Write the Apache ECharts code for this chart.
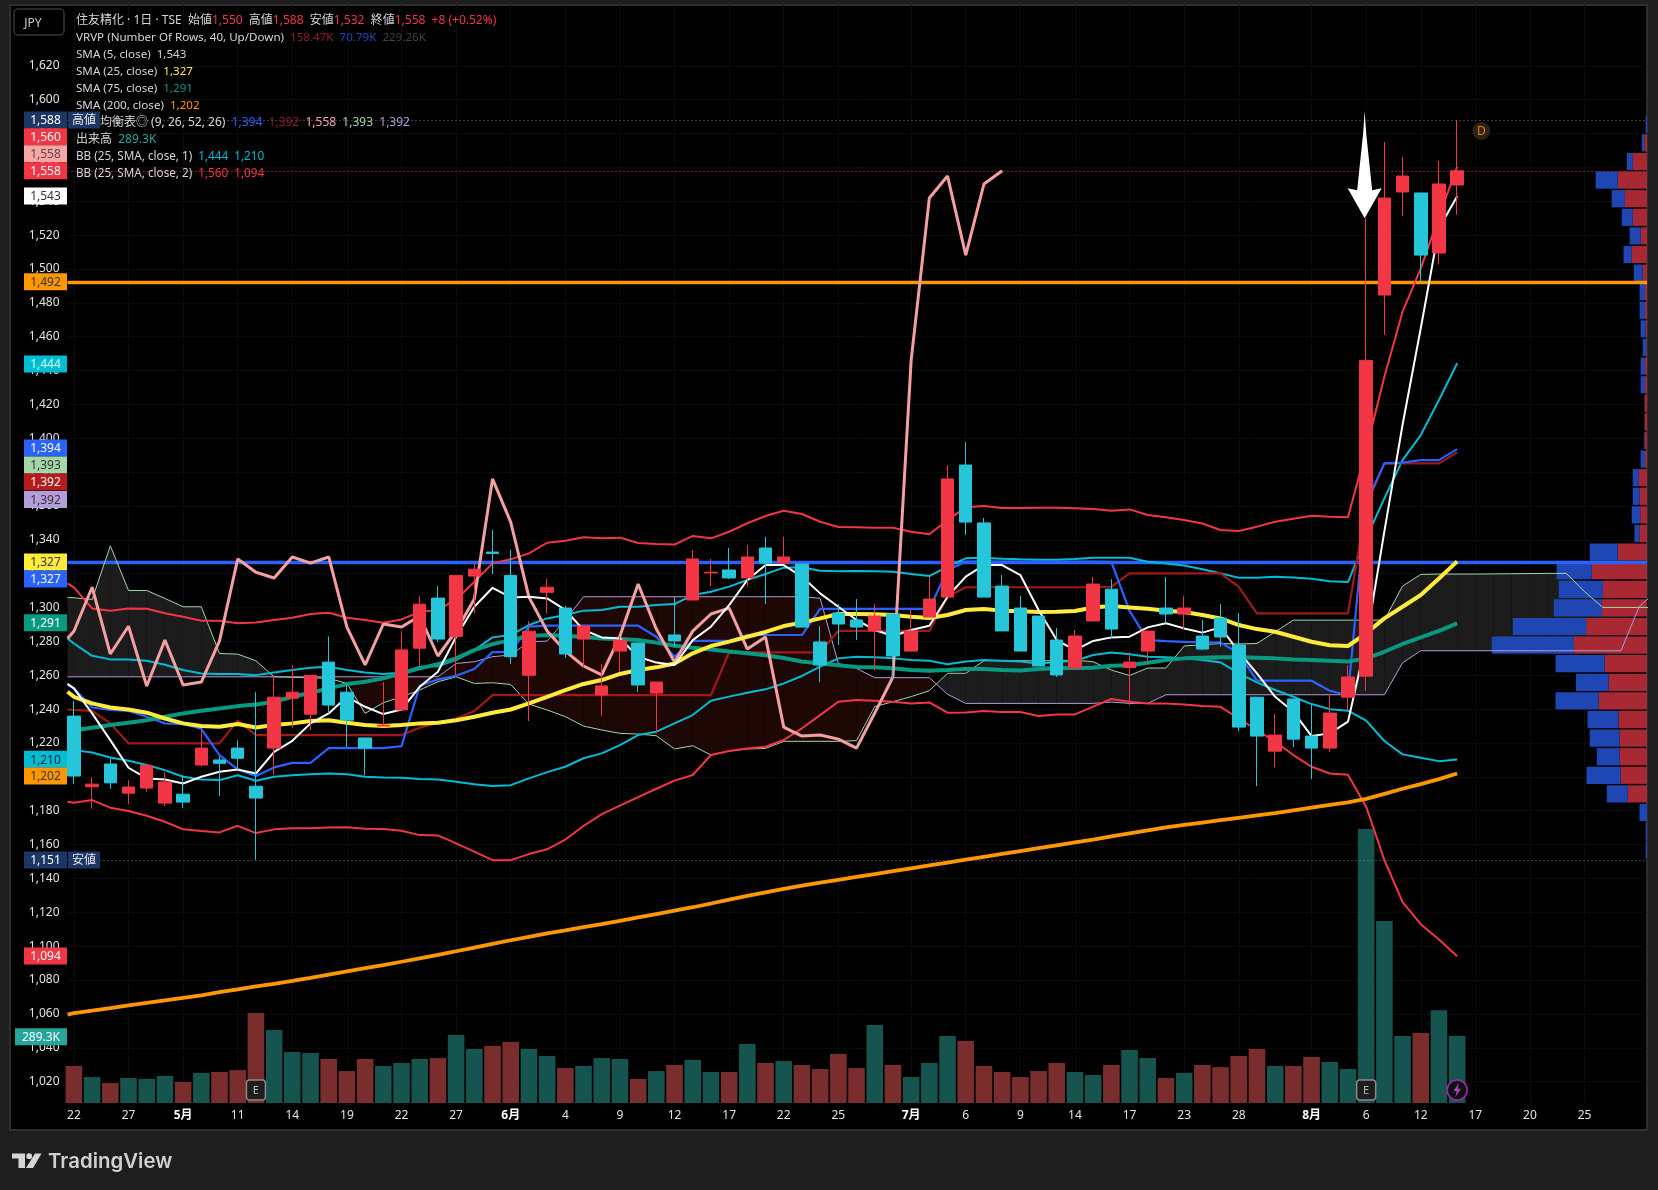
<!DOCTYPE html>
<html><head><meta charset="utf-8">
<style>html,body{margin:0;padding:0;background:#1e1e1e}#c{width:1658px;height:1190px}</style>
<script src="https://cdn.jsdelivr.net/npm/echarts@6/dist/echarts.min.js"></script>
</head><body><div id="c"></div>
<script>
// ---------- candles ----------
const opens=[1235.9,1194.2,1207.6,1190.4,1193.4,1184.5,1189.8,1207,1210,1217,1194.5,1217,1246.5,1237,1267.8,1250,1223,1230,1239.5,1276,1305.6,1283,1318.6,1332.8,1319,1260,1309,1299.7,1281.4,1248.4,1274.3,1279.1,1249.5,1283.8,1304.5,1320.5,1322.2,1317.5,1335.2,1326.3,1325.7,1279.7,1296.8,1292.7,1286.2,1296.2,1274.3,1294.4,1306.2,1384.2,1350,1312.7,1299.7,1295,1280.8,1264.3,1292.1,1310.9,1264.5,1274.3,1299.7,1296.2,1283.2,1293.8,1277.9,1247.1,1215.2,1246,1224.1,1217,1247.1,1259.5,1484.6,1545.5,1544.9,1509.4,1549.6];
const closes=[1200.5,1195.7,1196.5,1194,1206.8,1197,1185.1,1217,1208,1211,1187.5,1247.1,1250,1260,1242.4,1233.5,1217,1230.6,1275,1302,1281.4,1319,1322.7,1332,1271,1286,1312,1272.6,1289.1,1253.7,1280.8,1254.3,1256,1280.3,1328.7,1320.9,1317.5,1329.9,1326.3,1329.9,1288.5,1266.1,1290.3,1288.5,1295,1271.4,1286.2,1305,1376,1350.5,1306.2,1286.2,1274.3,1265.5,1260.2,1283.2,1313.9,1287.3,1267.8,1286.1,1296.2,1299.7,1275.5,1282.6,1229.4,1224.1,1224.7,1222.3,1217,1237.7,1259,1446,1541.9,1554.9,1508.2,1550.2,1558];
const highs=[1244.8,1199.7,1210.9,1198,1206.8,1202.8,1201,1227.6,1212,1221.7,1250,1260,1266,1260,1283,1255,1223,1256,1286,1306.8,1312.7,1319,1325.7,1345.8,1334,1292,1317,1301,1289.1,1266.7,1283,1279.1,1256,1306.4,1334,1328.7,1335.2,1337,1341.7,1341.7,1325.7,1289.1,1302.1,1305,1302.1,1296.2,1298.6,1318,1384.2,1397.8,1352.9,1319.2,1306.8,1295,1287.9,1286.8,1318,1316.7,1273.7,1286.1,1318,1306.8,1292.6,1302.1,1296.8,1247.1,1237,1246,1242.4,1249,1266,1530,1575,1566.1,1544.9,1563.8,1588];
const lows=[1195.7,1181.2,1193,1184,1191.2,1182.7,1181.6,1206,1188.6,1204,1151,1201,1229,1227.6,1237.5,1217.6,1201,1230,1239.5,1265,1279.6,1260,1296.6,1319.8,1266.6,1233,1296.6,1270.2,1264.9,1235.9,1262,1250.1,1225.7,1276.7,1304.5,1312.8,1316.9,1312.4,1302.1,1326.3,1288.5,1256,1277.9,1280.8,1263.1,1257.8,1274.3,1294.4,1306.2,1342.9,1306.2,1286.2,1274.3,1265.5,1259,1263.1,1292.1,1282,1242.4,1267,1290.7,1287.1,1274.9,1276.9,1227,1194.6,1205.8,1217.6,1198.7,1214.6,1239.5,1250.7,1461,1531.3,1492.9,1502.9,1532];
const volumes=[160,112,86,108,104,117,91,130,134,142,389,315,220,216,190,138,190,160,173,190,194,294,233,246,263,233,203,151,160,194,190,104,138,164,186,134,134,255,173,181,164,147,212,151,337,164,112,173,289,268,160,134,112,138,173,134,121,164,229,194,108,130,164,155,203,233,160,160,199,177,147,1183,786,289,302,401,289];
// ---------- indicator lines ----------
const sma5=[1252.3,1237.5,1221.7,1205.4,1199.1,1198.5,1196.1,1200.1,1203,1204.4,1202,1214.8,1221.3,1231.6,1237.5,1247.3,1241.4,1237.1,1239.8,1253.2,1262.1,1282.8,1300.5,1311.7,1306,1306.4,1305.4,1298.6,1286.8,1282.4,1281.8,1271,1267.5,1266.1,1280.8,1288.7,1301.5,1316.3,1325.1,1325.1,1318.3,1308.4,1300.5,1292.7,1286.8,1283.2,1286.8,1289.3,1306.4,1318.3,1325.1,1325.1,1319.2,1298.6,1280.8,1274.9,1280.3,1282.4,1282.8,1288.3,1290.7,1287.7,1285.2,1288.3,1273.9,1261.1,1247.3,1238.5,1224.1,1225.7,1232.6,1280,1345,1408,1465,1524,1543];
const sma25=[1247.3,1243.4,1241,1239.8,1237.9,1234.5,1231.6,1230,1229.6,1231.2,1229.2,1230.6,1231.6,1233,1233.5,1232,1230.6,1230,1230.6,1231.6,1232,1233.5,1235.5,1237.9,1239.8,1243.4,1247.3,1251.3,1254.9,1257.2,1260.8,1263.1,1264.7,1267,1273,1277.3,1279.9,1282.8,1285.6,1289.1,1291.1,1293.6,1296.2,1296.2,1296,1295.6,1294.6,1293.8,1295.6,1298.6,1299.2,1298.2,1297.8,1297.4,1297.6,1298,1300.1,1300.9,1300.1,1299.3,1298.1,1297.4,1295.6,1293.6,1289.7,1287.3,1285.7,1282.8,1279.8,1277.7,1277.3,1284.8,1293.6,1300.5,1307.4,1317.2,1327.3];
const sma75=[1227.6,1229,1230.6,1232,1233.5,1235.5,1237.5,1239,1240.4,1241.8,1242.8,1244.4,1247.3,1249.7,1252.3,1254.8,1256.2,1258.2,1261.1,1264.1,1266.6,1270,1274.9,1278.4,1280.8,1283.2,1283.8,1283.2,1282.8,1281.8,1281.4,1280.8,1279.3,1277.5,1276.3,1275.3,1274,1273,1271.8,1270.2,1268.2,1267,1265.9,1264.9,1264.7,1264.1,1263.1,1262.7,1263.1,1263.7,1263.7,1263.1,1262.9,1263.7,1264.1,1264.3,1264.5,1265.7,1266,1267.4,1269,1270,1270.4,1270.6,1270.6,1270.4,1270,1269.4,1269,1268.6,1268.2,1270,1273.9,1278.5,1282.4,1286.3,1290.7];
const sma200=[1060.5,1061.9,1063.4,1065,1066.5,1068,1069.5,1071,1072.8,1074.5,1076.2,1077.8,1079.5,1081.3,1083.2,1085.1,1087,1088.8,1090.8,1092.8,1094.8,1097,1099.2,1101.4,1103.5,1105.5,1107.5,1109.3,1111.2,1113,1115,1117,1119,1121,1123,1125.2,1127.5,1129.7,1131.8,1133.8,1135.8,1137.5,1139.2,1140.9,1142.6,1144.3,1146,1147.7,1149.4,1151.1,1152.8,1154.5,1156.2,1157.9,1159.6,1161.3,1163,1164.8,1166.6,1168.4,1170.2,1171.6,1173,1174.4,1175.8,1177.2,1178.6,1180.2,1181.8,1183.4,1184.9,1187,1190,1193,1195.7,1198.7,1202];
const tenkan=[1252.3,1241,1239.5,1239,1235.5,1231.6,1231.2,1228.4,1212.9,1204.4,1200.5,1205.6,1208.3,1208.3,1217,1217,1217,1217,1218.2,1253.8,1257.6,1259.7,1263.7,1273.7,1273.7,1288.7,1289.3,1289.3,1289.3,1289.3,1289.3,1289.3,1282.8,1271,1280.3,1280.3,1280.3,1283.8,1283.8,1283.8,1283.8,1299.2,1299.2,1299.2,1299.2,1299.2,1299.2,1299.2,1322.2,1327.1,1327.1,1327.1,1327.1,1327.1,1327.1,1327.1,1327.1,1327,1298.1,1280.8,1280.2,1279.8,1279.4,1279.4,1273,1256.8,1256.8,1256.8,1256.8,1250.9,1248.3,1362,1385.2,1385.6,1387.1,1387.1,1393.6];
const kijun=[1239.5,1239,1231.6,1219.8,1219.8,1219.8,1219.8,1219.8,1219.8,1233.2,1224.7,1224.7,1224.7,1224.7,1224.7,1224.7,1224.7,1224.7,1224.7,1229,1232,1234.5,1238.9,1248.3,1248.3,1248.3,1248.3,1248.3,1248.3,1248.3,1248.3,1248.3,1248.3,1248.3,1248.3,1248.3,1273.6,1273.6,1273.6,1273.6,1273.6,1273.6,1286.2,1286.2,1286.2,1286.2,1286.2,1286.2,1306.4,1312,1312,1312,1312,1312,1312,1312,1312,1312.3,1320.2,1320.2,1320.2,1320.2,1320.2,1320.2,1312.3,1296.6,1296.6,1296.6,1296.6,1296.6,1296.6,1360,1385.2,1385.2,1385.2,1385.2,1391.7];
const chikou=[1286,1312,1272.6,1289,1253.7,1280.8,1254.3,1256,1280.3,1328.7,1320.9,1317.5,1329.9,1326.3,1329.9,1288.5,1266.1,1290.3,1288.5,1295,1271.4,1286.2,1305,1376,1350.5,1306.2,1286.2,1274.3,1265.5,1260.2,1283.2,1313.9,1287.3,1267.8,1286.1,1296.2,1299.7,1275.5,1282.6,1229.4,1224.1,1224.7,1222.3,1217,1237.7,1259,1446,1541.9,1554.9,1508.2,1550.2,1558];
const senkouA=[1305.8,1304.8,1336.5,1310.1,1310.1,1305.4,1300.5,1300.5,1272.9,1272.5,1268.6,1259.1,1258.8,1258.5,1258.2,1255.2,1237.5,1243.8,1247.3,1251.3,1256.2,1259.1,1255.2,1255.6,1254.6,1243,1239.5,1235.6,1230,1227.7,1225.7,1225.3,1224.3,1216.5,1218.4,1212.9,1215.3,1216.5,1216.8,1221,1221,1221,1221,1221.4,1241.5,1244.4,1247.4,1250.9,1261.2,1261.2,1268.6,1268.6,1268.6,1268.6,1268.6,1269,1268,1263.1,1259.9,1264.3,1264.3,1277.3,1278.1,1278.8,1278.5,1278.8,1285.7,1292.6,1292.6,1292.6,1292.6,1292.6,1292.6,1312.7,1319.6,1319.8,1319.8,1319.8,1319.9,1320,1320.1,1320.2,1320.2,1309.4,1300.1,1300.1,1300.1,1300.1];
const senkouB=[1259.1,1259.1,1259.1,1259.1,1259.1,1259.1,1259.1,1259.1,1259.1,1259.1,1259.1,1259.1,1259.1,1259.1,1259.1,1259.1,1259.1,1259.1,1259.1,1259.1,1259.1,1267,1268,1271,1272,1279.8,1280.2,1292.7,1306.4,1306.4,1306.4,1306.4,1306.4,1306.4,1306.4,1306.4,1306.4,1306.4,1306.4,1306.4,1306.4,1305.5,1267,1264.1,1258.6,1258.6,1258.6,1258.6,1248.8,1243.4,1243.4,1243.4,1243.4,1243.4,1243.4,1243.4,1243.4,1244.2,1243.4,1243.4,1248.5,1248.5,1248.5,1248.5,1248.5,1248.5,1248.5,1248.5,1248.5,1248.5,1248.5,1248.5,1248.5,1267.4,1274.5,1274.5,1274.5,1274.5,1274.5,1274.5,1274.5,1274.5,1274.5,1274.5,1274.5,1274.5,1300.5,1310];
const bb1Up=[1278.8,1271.5,1269.4,1269.4,1268.6,1266.2,1263.1,1261.1,1260.7,1260.7,1260.1,1261.7,1263.1,1264.5,1265.1,1263.1,1261.7,1260.7,1261.5,1265.1,1265.4,1269,1274.9,1282.4,1283.8,1289.7,1293.6,1295.6,1298.2,1298.6,1300.5,1300.5,1301.5,1302.1,1307.4,1309.4,1312.4,1316.3,1319.8,1323.6,1323.8,1321.8,1321.4,1321.6,1321.4,1321.2,1319.8,1318.6,1324.2,1329.1,1329.5,1328.9,1328.5,1328.3,1328.3,1328.7,1329.5,1329.4,1329.4,1327.1,1326.1,1324.9,1322.6,1320.2,1317.6,1317.6,1318.2,1317.8,1317,1315.5,1315.1,1341,1364.5,1387.1,1401.9,1422.6,1444.3];
const bb1Lo=[1215.8,1214.4,1211.5,1209.5,1207,1204,1200.1,1198.5,1198.1,1201,1197.7,1200.1,1200.9,1201.5,1202,1201.5,1200.1,1199.7,1199.5,1198.7,1198.5,1197.1,1195.7,1194.6,1195.1,1199.1,1202.8,1206,1211,1213.9,1218.8,1224.7,1226.7,1231.6,1236.5,1245,1247.4,1249.7,1251.7,1255.2,1259.6,1265.1,1270,1271,1270.6,1270,1269,1268.6,1266.5,1268.2,1269,1268.6,1268.2,1267,1267.8,1268.6,1272,1273.5,1272.5,1271,1270.6,1270,1269,1267.6,1261.1,1255.8,1251.3,1247.3,1243,1240,1239.1,1233.2,1221.2,1213.3,1211.3,1209.3,1210.3];
const bb2Up=[1311.9,1299.5,1298.1,1299.5,1299.3,1296.6,1294.6,1292.2,1292.2,1290.8,1291.2,1292.6,1294,1296.2,1297,1294,1292.6,1291,1293,1297.5,1298.5,1304.8,1315.3,1326.1,1328.5,1332,1338.3,1339.5,1341.5,1340.9,1341.3,1338.1,1337.6,1337.2,1342.3,1340.9,1344.8,1349.8,1354.1,1357.2,1355.3,1350.7,1347.6,1347.4,1347.2,1347.2,1344.8,1343.3,1351.7,1359.2,1360,1358.8,1358.8,1359,1359,1358.6,1358.2,1357.2,1358,1354.7,1353.3,1351.7,1349.7,1345.8,1345.2,1347.8,1350.7,1352.5,1354.3,1353.7,1353.3,1393,1436.4,1474.8,1500.4,1530.9,1560.4];
const bb2Lo=[1184.7,1186.3,1181.8,1179.8,1177,1173.5,1169,1168,1167.2,1171.1,1166.8,1169,1169.6,1169.7,1170.1,1170.3,1169.4,1169.2,1168.2,1165.6,1165.4,1160.7,1155.8,1150.8,1150.8,1154.4,1157.2,1163,1171,1178,1183,1188,1193,1197.8,1201.1,1212.9,1215.3,1216.8,1217.8,1221.8,1228.7,1236.5,1244.4,1245.4,1245,1244.4,1243.4,1244,1237.9,1238.1,1238.9,1238.3,1238.3,1236,1236.9,1236.9,1241.5,1246,1244.4,1243.4,1243.4,1242.8,1241.8,1241.4,1234.5,1227.7,1220.8,1212.9,1206,1202,1201.3,1182.4,1150.9,1126,1113,1104,1094];
// value of each line where it enters at the left edge of the pane
const leftEdge={sma5:1255,sma25:1250.3,sma200:1059.6,tenkan:1254.2,kijun:1239.8,chikou:1281.8,senkouA:1306,senkouB:1259.1,bb1Up:1281.8,bb1Lo:1216.8,bb2Up:1314.3,bb2Lo:1185.3};
// ---------- volume profile rows (top to bottom) ----------
const vpUp=[0,2.8,14.2,29.2,22.1,14.2,6.4,15.3,4.3,2.1,2.1,1.4,0.7,2.1,2.1,2.5,2.5,2.5,2.1,8.2,7.5,6.8,7.5,29.2,55.2,44.1,45.2,60.9,73.3,42.3,38.4,48.4,28.5,27.4,27.4,26.3,19.2,0,0,0];
const vpDown=[1.4,2.5,6,22.1,13.2,11,11,8.2,8.9,5.3,5.3,5,3.6,4.3,4.3,0,0,0.7,4.3,6,6.8,8.5,5,28.1,35.2,44.1,48,73.3,81.9,49.1,32.7,43.1,31,29.9,22.8,34.2,21,7.5,1.4,1.4];
// ---------- axis labels ----------
const yTicks=[1020,1040,1060,1080,1100,1120,1140,1160,1180,1200,1220,1240,1260,1280,1300,1320,1340,1360,1380,1400,1420,1440,1460,1480,1500,1520,1540,1560,1580,1600,1620];
const xTicks=[0,3,6,9,12,15,18,21,24,27,30,33,36,39,42,46,49,52,55,58,61,64,68,71,74,77,80,83];
const xLabels=['22','27','5月','11','14','19','22','27','6月','4','9','12','17','22','25','7月','6','9','14','17','23','28','8月','6','12','17','20','25'];
// ---------- level lines and price tags ----------
const levels={supplyLine:1492,poc:1327,high:1588,last:1558,low:1151};
const tagTexts=['1,588','1,560','1,558','1,558','1,543','1,492','1,444','1,394','1,393','1,392','1,392','1,327','1,327','1,291','1,210','1,202','1,151','1,094'];
const tagTops=[120,136.7,153.7,170.7,196,281.7,364,448,465,482,499.5,562,579,622.7,759.3,776,860,956];
const tagFills=['#1c3666','#f23645','#f7a5a5','#f23645','#ffffff','#ff9800','#00bcd4','#2962ff','#a5d6a7','#b71c1c','#b39ddb','#ffeb3b','#2962ff','#089981','#00bcd4','#ff9800','#1c3666','#f23645'];
const tagInks=['#fff','#fff','#5a4a4a','#fff','#333','#333','#cfe','#fff','#333','#fff','#333','#333','#fff','#fff','#123','#333','#fff','#fff'];

for(const [n,a,l] of [['o',opens,77],['c',closes,77],['h',highs,77],['l',lows,77],['v',volumes,77],['s5',sma5,77],['s25',sma25,77],['s75',sma75,77],['s200',sma200,77],['t',tenkan,77],['k',kijun,77],['ch',chikou,52],['a',senkouA,88],['b',senkouB,88],['b1u',bb1Up,77],['b1l',bb1Lo,77],['b2u',bb2Up,77],['b2l',bb2Lo,77],['vu',vpUp,40],['vd',vpDown,40]]){
  if(a.length!==l) throw new Error('len '+n+' '+a.length);
}

const FONT='"Noto Sans","Noto Sans CJK JP",sans-serif';
const RED='#f23645',TEAL='#26c6da';
const GRID={left:67.5,right:11,top:5,bottom:87};
const Y_MIN=1007.37,Y_MAX=1655.93,X_MIN=-0.352,X_MAX=86.43,X0=-0.35;

function lineData(vals,edge){
  const d=vals.map((v,i)=>[i,v]);
  if(edge!==undefined) d.unshift([X0,edge]);
  return d;
}
function line(name,vals,color,width,edge,z,extra){
  return Object.assign({name,type:'line',xAxisIndex:0,yAxisIndex:0,data:lineData(vals,edge),showSymbol:false,symbol:'none',
    lineStyle:{color,width},z:z||5,silent:true,animation:false},extra||{});
}
// cloud segments
const cloudX=[X0].concat(senkouA.map((_,i)=>i));
const cloudA=[leftEdge.senkouA].concat(senkouA);
const cloudB=[leftEdge.senkouB].concat(senkouB);
const cloudData=[];
for(let i=0;i<cloudX.length-1;i++) cloudData.push([cloudX[i],cloudX[i+1],cloudA[i],cloudA[i+1],cloudB[i],cloudB[i+1]]);
const GRAY='rgb(28,28,28)',BROWN='rgb(30,8,6)';

function cloudItem(params,api){
  const x0=api.value(0),x1=api.value(1),a0=api.value(2),a1=api.value(3),b0=api.value(4),b1=api.value(5);
  const poly=(pts,fill)=>({type:'polygon',shape:{points:pts.map(p=>api.coord(p))},style:{fill},silent:true});
  const d0=a0-b0,d1=a1-b1;
  if(d0*d1>=0){
    return poly([[x0,a0],[x1,a1],[x1,b1],[x0,b0]],(d0+d1)>=0?GRAY:BROWN);
  }
  const t=d0/(d0-d1),xm=x0+(x1-x0)*t,ym=a0+(a1-a0)*t;
  return {type:'group',children:[
    poly([[x0,a0],[xm,ym],[x0,b0]],d0>0?GRAY:BROWN),
    poly([[xm,ym],[x1,a1],[x1,b1]],d1>0?GRAY:BROWN)
  ]};
}

const candleData=closes.map((c,i)=>[i,opens[i],c,lows[i],highs[i]]);
const volData=volumes.map((v,i)=>({value:[i,v],itemStyle:{color:closes[i]>=opens[i]?'#15544f':'#7a2d2d'}}));

// event markers positioned from the axes
const earnings=[10,71];
const divMark=[[77.33,1581.5]];
const flashBar=[76];
const arrowAt=[[71,1530]];

function markerSeries(){
  return [
  {type:'custom',xAxisIndex:0,yAxisIndex:1,data:earnings.map(i=>[i,0]),z:8,silent:true,clip:false,
    renderItem(p,api){const c=api.coord([api.value(0),0]);
      return {type:'group',x:c[0],y:c[1]-13,children:[
        {type:'rect',shape:{x:-9.5,y:-10,width:19,height:20,r:3},style:{fill:'#1e1e1e',stroke:'#8a8a8a',lineWidth:1.5}},
        {type:'text',style:{text:'E',x:0,y:1,align:'center',verticalAlign:'middle',fill:'#b8b8b8',font:'11px '+FONT}}]};}},
  {type:'custom',xAxisIndex:0,yAxisIndex:1,data:flashBar.map(i=>[i,0]),z:8,silent:true,clip:false,
    renderItem(p,api){const c=api.coord([api.value(0),0]);
      return {type:'group',x:c[0],y:c[1]-13,children:[
        {type:'circle',shape:{cx:0,cy:0,r:10},style:{fill:'#101010',stroke:'#9c27b0',lineWidth:1.6}},
        {type:'polygon',shape:{points:[[1.8,-7],[-3.6,1],[-0.4,1],[-1.8,7],[3.8,-1.2],[0.6,-1.2]]},style:{fill:'#ab47bc'}}]};}},
  {type:'custom',xAxisIndex:0,yAxisIndex:0,data:divMark,z:8,silent:true,clip:false,
    renderItem(p,api){const c=api.coord([api.value(0),api.value(1)]);
      return {type:'group',x:c[0],y:c[1],children:[
        {type:'circle',shape:{cx:0,cy:0,r:9},style:{fill:'#2c2215'}},
        {type:'text',style:{text:'D',x:0,y:1,align:'center',verticalAlign:'middle',fill:'#e67e16',font:'12px '+FONT}}]};}},
  {type:'custom',xAxisIndex:0,yAxisIndex:0,data:arrowAt,z:9,silent:true,clip:false,
    renderItem(p,api){const c=api.coord([api.value(0),api.value(1)]);
      return {type:'polygon',x:c[0]-1.5,y:c[1],shape:{points:[[0,-107],[1.5,-85],[7.5,-28],[17,-30],[0,0],[-17,-30],[-7.5,-28],[-1.5,-85]]},style:{fill:'#ffffff'}};}}
  ];
}

const series=[
 {name:'cloud',type:'custom',xAxisIndex:0,yAxisIndex:0,renderItem:cloudItem,data:cloudData,encode:{x:[0,1],y:[2,3,4,5]},z:1,clip:true,silent:true},
 {name:'出来高',type:'bar',xAxisIndex:0,yAxisIndex:1,data:volData,barWidth:16.6,z:2,silent:true,animation:false},
 {name:'VP up',type:'bar',xAxisIndex:1,yAxisIndex:2,data:vpUp,stack:'vp',barWidth:17.2,itemStyle:{color:'#a82834'},z:2,silent:true},
 {name:'VP down',type:'bar',xAxisIndex:1,yAxisIndex:2,data:vpDown,stack:'vp',barWidth:17.2,itemStyle:{color:'#1f47b4'},z:2,silent:true},
 line('SenkouA',senkouA,'#a5d6a7',1,leftEdge.senkouA,3),
 line('SenkouB',senkouB,'#b39ddb',1,leftEdge.senkouB,3),
 line('BB2U',bb2Up,'#f23645',2,leftEdge.bb2Up,4),
 line('BB2L',bb2Lo,'#f23645',2,leftEdge.bb2Lo,4),
 line('BB1U',bb1Up,'#00bcd4',2,leftEdge.bb1Up,4),
 line('BB1L',bb1Lo,'#00bcd4',2,leftEdge.bb1Lo,4),
 line('Kijun',kijun,'#a11a1a',2.2,leftEdge.kijun,4),
 line('Tenkan',tenkan,'#2962ff',2.2,leftEdge.tenkan,4,{
   markLine:{silent:true,symbol:'none',label:{show:false},animation:false,z:3,data:[
     {yAxis:levels.supplyLine,lineStyle:{color:'#ff9800',width:3.4,type:'solid'}},
     {yAxis:levels.poc,lineStyle:{color:'#2962ff',width:3.4,type:'solid'}},
     {yAxis:levels.high,lineStyle:{color:'#7d7d7d',width:1,type:[1,3]}},
     {yAxis:levels.last,lineStyle:{color:'#f23645',width:1,type:[1,3]}},
     {yAxis:levels.low,lineStyle:{color:'#7d7d7d',width:1,type:[1,3]}}
   ]}}),
 line('SMA75',sma75,'#089981',4,undefined,5),
 line('SMA200',sma200,'#ff9800',3.8,leftEdge.sma200,5),
 line('Chikou',chikou,'#f4a0a0',3,leftEdge.chikou,5),
 line('SMA25',sma25,'#ffeb3b',4,leftEdge.sma25,6),
 line('SMA5',sma5,'#ffffff',2,leftEdge.sma5,6),
 {name:'住友精化',type:'candlestick',xAxisIndex:0,yAxisIndex:0,data:candleData,barWidth:13,z:7,silent:true,animation:false,
  itemStyle:{color:RED,color0:TEAL,borderColor:RED,borderColor0:TEAL,borderWidth:1}}
].concat(markerSeries());

// ---------- legend rows ----------
const W='#d6d6d6';
const legendRows=[
 [['住友精化 · 1日 · TSE  始値',W],['1,550',RED],['  高値',W],['1,588',RED],['  安値',W],['1,532',RED],['  終値',W],['1,558',RED],['  +8 (+0.52%)',RED]],
 [['VRVP (Number Of Rows, 40, Up/Down)  ',W],['158.47K','#8c1f2b'],['  ',W],['70.79K','#1f47b4'],['  ',W],['229.26K','#444444']],
 [['SMA (5, close)  ',W],['1,543',W]],
 [['SMA (25, close)  ',W],['1,327','#ffeb3b']],
 [['SMA (75, close)  ',W],['1,291','#089981']],
 [['SMA (200, close)  ',W],['1,202','#ff9800']],
 [['一目均衡表◎ (9, 26, 52, 26)  ',W],['1,394','#2962ff'],['  ',W],['1,392','#8c1f2b'],['  ',W],['1,558','#f7a5a5'],['  ',W],['1,393','#a5d6a7'],['  ',W],['1,392','#b39ddb']],
 [['出来高  ',W],['289.3K','#26a69a']],
 [['BB (25, SMA, close, 1)  ',W],['1,444','#00bcd4'],['  ',W],['1,210','#00bcd4']],
 [['BB (25, SMA, close, 2)  ',W],['1,560',RED],['  ',W],['1,094',RED]]
];
const rowSizes=[12,11.6,11.6,11.6,11.6,11.6,12,12,11.7,11.7];
const graphics=[
 {type:'rect',z:-10,shape:{x:10,y:5,width:1637,height:1125},style:{fill:'#000',stroke:'#2e2e2e',lineWidth:2},silent:true}
];
legendRows.forEach((segs,r)=>{
  const rich={};let text='';
  segs.forEach((s,i)=>{const k='c'+i;rich[k]={fill:s[1],fontSize:rowSizes[r],fontFamily:FONT};text+='{'+k+'|'+s[0]+'}';});
  graphics.push({type:'text',z:50,silent:true,style:{x:76,y:21+r*17,text,rich,verticalAlign:'middle',font:'12px '+FONT}});
});
// price tags
tagTexts.forEach((t,i)=>{
  graphics.push({type:'rect',z:60,silent:true,shape:{x:24,y:tagTops[i]-8.5,width:43,height:17},style:{fill:tagFills[i]}});
  graphics.push({type:'text',z:61,silent:true,style:{x:45.5,y:tagTops[i]+1,text:t,align:'center',verticalAlign:'middle',fill:tagInks[i],font:'12px '+FONT}});
});
// name flags on the high / low tags
[[tagTops[0],'高値'],[tagTops[16],'安値']].forEach(f=>{
  graphics.push({type:'rect',z:60,silent:true,shape:{x:68,y:f[0]-8.5,width:32,height:17},style:{fill:'#1c3666'}});
  graphics.push({type:'text',z:61,silent:true,style:{x:84,y:f[0]+1,text:f[1],align:'center',verticalAlign:'middle',fill:'#e8e8e8',font:'12px '+FONT}});
});
// volume tag
graphics.push({type:'rect',z:60,silent:true,shape:{x:15,y:1028.2,width:52,height:17},style:{fill:'#26a69a'}});
graphics.push({type:'text',z:61,silent:true,style:{x:41,y:1037.7,text:'289.3K',align:'center',verticalAlign:'middle',fill:'#fff',font:'12px '+FONT}});
// currency box
graphics.push({type:'rect',z:60,silent:true,shape:{x:14,y:9,width:50,height:26,r:4},style:{fill:'#000',stroke:'#363636',lineWidth:1.5}});
graphics.push({type:'text',z:61,silent:true,style:{x:33,y:24,text:'JPY',align:'center',verticalAlign:'middle',fill:'#c8c8c8',font:'12px '+FONT}});
// logo
graphics.push({type:'polygon',z:61,silent:true,shape:{points:[[12,1153.5],[25,1153.5],[25,1168],[18.5,1168],[18.5,1158.5],[12,1158.5]]},style:{fill:'#d6d6d6'}});
graphics.push({type:'circle',z:61,silent:true,shape:{cx:29.2,cy:1156.2,r:2.9},style:{fill:'#d6d6d6'}});
graphics.push({type:'polygon',z:61,silent:true,shape:{points:[[35,1153.5],[41.5,1153.5],[33,1168],[26,1168]]},style:{fill:'#d6d6d6'}});
graphics.push({type:'text',z:61,silent:true,style:{x:48,y:1162,text:'TradingView',verticalAlign:'middle',fill:'#d0d0d0',font:'600 20.4px Inter,"Noto Sans",sans-serif'}});

const chart=echarts.init(document.getElementById('c'),null,{renderer:'canvas',width:1658,height:1190});
chart.setOption({
 animation:false,
 backgroundColor:'#1e1e1e',
 textStyle:{fontFamily:FONT},
 tooltip:{show:false},
 legend:{show:false},
 grid:[
  Object.assign({containLabel:false},GRID),
  {left:1347,right:11,top:115,height:744,containLabel:false}
 ],
 xAxis:[
  {type:'value',gridIndex:0,min:X_MIN,max:X_MAX,
   axisLine:{show:false},
   axisTick:{show:false,customValues:xTicks},
   splitLine:{show:true,lineStyle:{color:'#0b0b0b',width:1}},
   axisLabel:{show:true,customValues:xTicks,margin:7,fontSize:12,color:'#e2e2e2',fontFamily:FONT,hideOverlap:false,
     formatter:v=>{const k=xTicks.indexOf(Math.round(v));const s=xLabels[k]||'';return /月/.test(s)?'{m|'+s+'}':s;},
     rich:{m:{fontWeight:'bold',fontSize:12,color:'#ffffff',fontFamily:FONT}}}},
  {type:'value',gridIndex:1,min:0,max:300,inverse:true,show:false,splitLine:{show:false}}
 ],
 yAxis:[
  {type:'value',gridIndex:0,min:Y_MIN,max:Y_MAX,scale:true,position:'left',
   axisLine:{show:false},
   axisTick:{show:false,customValues:yTicks},
   splitLine:{show:true,lineStyle:{color:'#0b0b0b',width:1}},
   axisLabel:{show:true,customValues:yTicks,margin:8,fontSize:12,color:'#e2e2e2',fontFamily:FONT,
     formatter:v=>Math.round(v).toLocaleString('en-US')}},
  {type:'value',gridIndex:0,min:0,max:4741,show:false,splitLine:{show:false}},
  {type:'category',gridIndex:1,inverse:true,show:false,data:vpUp.map((_,i)=>'r'+i)}
 ],
 series,
 graphic:{elements:graphics}
});
</script></body></html>
